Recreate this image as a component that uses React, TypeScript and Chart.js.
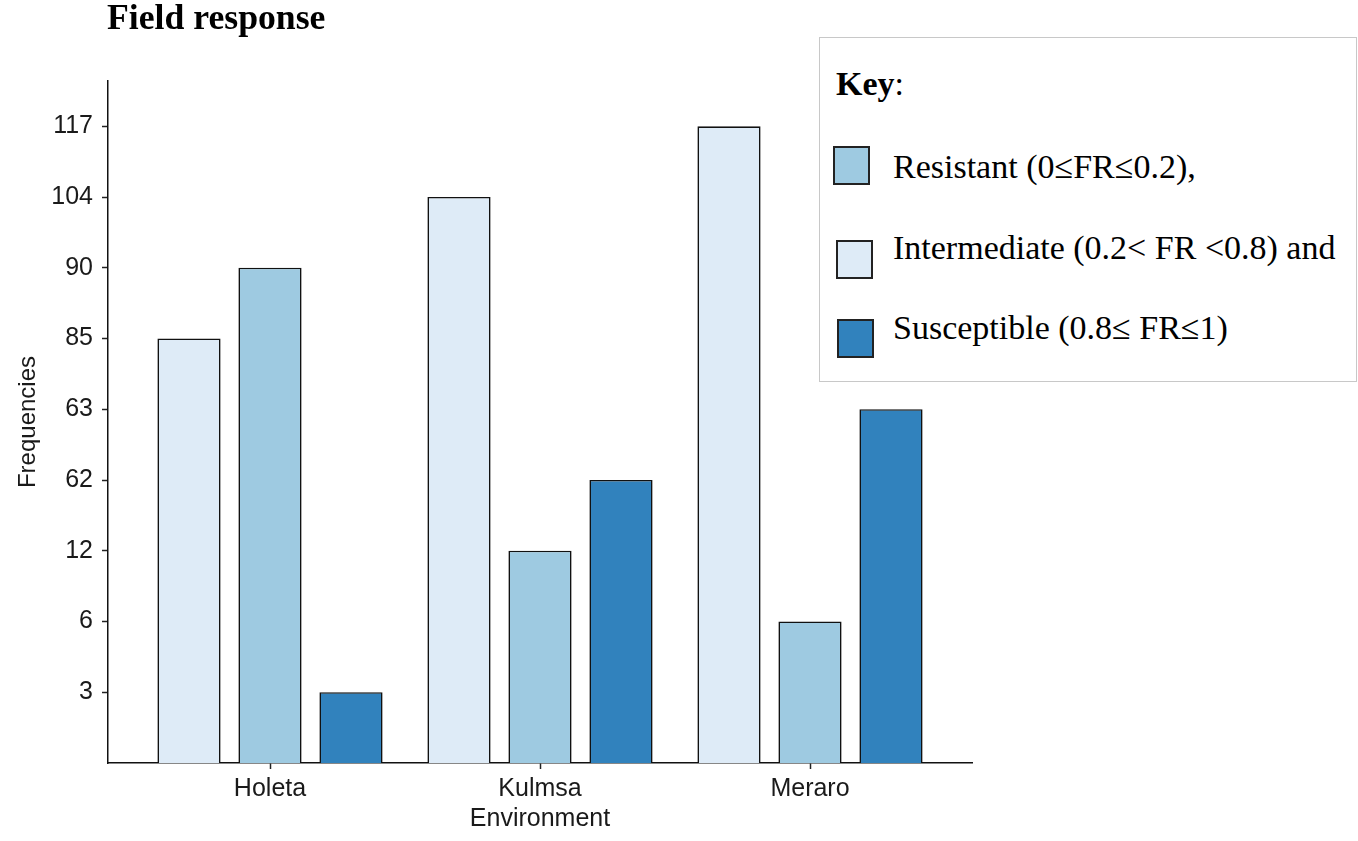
import React, { useEffect, useRef } from 'react';
import { Chart, registerables } from 'chart.js';

Chart.register(...registerables);

// environments on the x axis
const categories = ['Holeta', 'Kulmsa', 'Meraro'];

// the y axis of the source is ordinal: these labels sit at equal steps
const tickLabels = [3, 6, 12, 62, 63, 85, 90, 104, 117];

// frequencies per environment
const intermediate = [85, 104, 117];
const resistant = [90, 12, 6];
const susceptible = [3, 62, 63];

const colors = {
    intermediate: '#DEEBF7',
    resistant: '#9ECAE1',
    susceptible: '#3182BD'
};

const axisFont = { family: 'Liberation Sans, Arial, sans-serif', size: 25, lineHeight: 1 };
const axisColor = '#1a1a1a';

// place each value at the step of its label
const rank = (v: number) => tickLabels.indexOf(v) + 1;
const toPoints = (values: number[]) => values.map((v, i) => ({ x: i + 1, y: rank(v) }));

const legendItems = [
    { label: 'Resistant (0\u2264FR\u22640.2),', color: colors.resistant, top: 146, left: 833 },
    { label: 'Intermediate (0.2< FR <0.8) and', color: colors.intermediate, top: 240, left: 836 },
    { label: 'Susceptible (0.8\u2264 FR\u22641)', color: colors.susceptible, top: 319, left: 837 }
];
const legendTextTop = [150, 231, 311];

export default function App() {
    const canvas = useRef<HTMLCanvasElement>(null);

    useEffect(() => {
        document.body.style.margin = '0';
        const bar = (label: string, values: number[], color: string) => ({
            label,
            data: toPoints(values),
            backgroundColor: color,
            borderColor: '#111',
            borderWidth: 1.6
        });
        const chart = new Chart(canvas.current!, {
            type: 'bar',
            data: {
                datasets: [
                    bar('Intermediate', intermediate, colors.intermediate),
                    bar('Resistant', resistant, colors.resistant),
                    bar('Susceptible', susceptible, colors.susceptible)
                ]
            } as any,
            options: {
                responsive: false,
                animation: false,
                categoryPercentage: 0.9,
                barPercentage: 0.78,
                layout: { padding: { top: 81, right: 386, bottom: 0, left: 0 } },
                plugins: {
                    legend: { display: false },
                    tooltip: { enabled: false }
                },
                scales: {
                    x: {
                        type: 'linear',
                        min: 0.4,
                        max: 3.6,
                        offset: false,
                        afterBuildTicks: (scale: any) => {
                            scale.ticks = categories.map((_, i) => ({ value: i + 1 }));
                        },
                        afterFit: (scale: any) => {
                            scale.height = 78;
                        },
                        ticks: {
                            callback: (v: any) => categories[Number(v) - 1],
                            font: axisFont,
                            color: axisColor,
                            padding: 8,
                            maxRotation: 0
                        },
                        grid: {
                            offset: false,
                            drawOnChartArea: false,
                            drawTicks: true,
                            tickLength: 6,
                            tickWidth: 1.5,
                            tickColor: '#222'
                        },
                        border: { display: true, color: '#111', width: 1.5 },
                        title: {
                            display: true,
                            text: 'Environment',
                            font: axisFont,
                            color: axisColor,
                            padding: { top: 0, bottom: 9 }
                        }
                    },
                    y: {
                        type: 'linear',
                        min: 0,
                        max: 9.64,
                        afterBuildTicks: (scale: any) => {
                            scale.ticks = tickLabels.map((_, i) => ({ value: i + 1 }));
                        },
                        afterFit: (scale: any) => {
                            scale.width = 108;
                        },
                        ticks: {
                            callback: (v: any) => String(tickLabels[Number(v) - 1]),
                            font: axisFont,
                            color: axisColor,
                            padding: 9
                        },
                        grid: {
                            drawOnChartArea: false,
                            drawTicks: true,
                            tickLength: 6,
                            tickWidth: 1.5,
                            tickColor: '#222'
                        },
                        border: { display: true, color: '#111', width: 1.5 },
                        title: {
                            display: true,
                            text: 'Frequencies',
                            font: { ...axisFont, size: 24 },
                            color: axisColor,
                            padding: { top: 16, bottom: 0 }
                        }
                    }
                }
            } as any
        });
        return () => {
            chart.destroy();
        };
    }, []);

    const serif = 'Liberation Serif, "Times New Roman", serif';

    return (
        <div style={{ position: 'relative', width: 1358, height: 841, background: '#fff', overflow: 'hidden' }}>
            <canvas ref={canvas} width={1358} height={841} style={{ position: 'absolute', left: 0, top: 0 }}></canvas>
            <div style={{ position: 'absolute', left: 107, top: 0, fontFamily: serif, fontWeight: 'bold', fontSize: 35.7, lineHeight: 1, color: '#000' }}>
                Field response
            </div>
            <div style={{ position: 'absolute', left: 819, top: 37, width: 538, height: 345, border: '1px solid #c8c8c8', boxSizing: 'border-box', background: '#fff' }}></div>
            <div style={{ position: 'absolute', left: 836, top: 67, fontFamily: serif, fontSize: 34, lineHeight: 1, color: '#000', whiteSpace: 'nowrap' }}>
                <b>Key</b>:
            </div>
            {legendItems.map((item, i) => (
                <React.Fragment key={item.label}>
                    <div style={{ position: 'absolute', left: item.left, top: item.top, width: 37, height: 39, background: item.color, border: '2px solid #222', boxSizing: 'border-box' }}></div>
                    <div style={{ position: 'absolute', left: 893, top: legendTextTop[i], fontFamily: serif, fontSize: 34, lineHeight: 1, color: '#000', whiteSpace: 'nowrap' }}>
                        {item.label}
                    </div>
                </React.Fragment>
            ))}
        </div>
    );
}
